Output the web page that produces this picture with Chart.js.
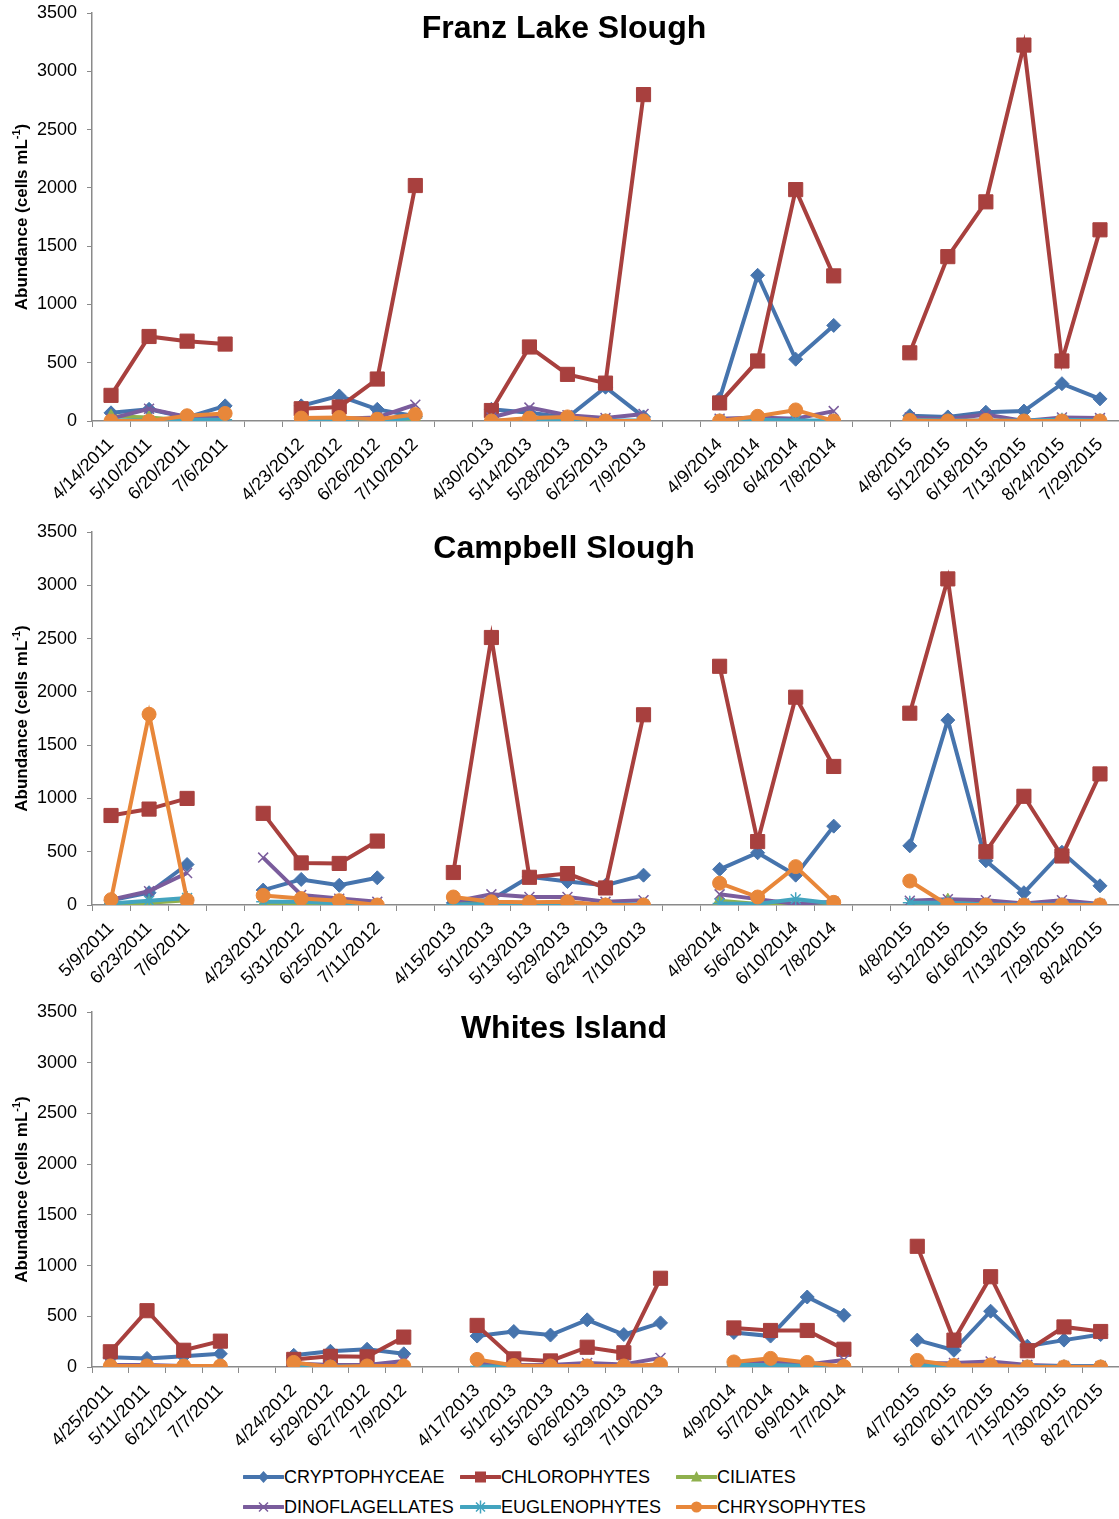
<!DOCTYPE html>
<html>
<head>
<meta charset="utf-8">
<title>Phytoplankton abundance by site</title>
<script src="https://cdn.jsdelivr.net/npm/chart.js@4/dist/chart.umd.min.js"></script>
<style>
  html, body { margin: 0; padding: 0; background: #fff; }
  body { width: 1119px; height: 1519px; position: relative; overflow: hidden;
         font-family: "Liberation Sans", Arial, sans-serif; }
  .panel { position: absolute; left: 0; }
  .panel canvas { display: block; }
  .legend-item { position: absolute; height: 20px; display: flex; align-items: center;
                 font-size: 18px; color: #000; white-space: nowrap; }
  .legend-item svg { width: 41px; height: 20px; flex: none; }
</style>
</head>
<body>
<div class="panel" style="top:0"><canvas id="franz" width="1119" height="510"></canvas></div>
<div class="panel" style="top:515px"><canvas id="campbell" width="1119" height="480"></canvas></div>
<div class="panel" style="top:995px"><canvas id="whites" width="1119" height="460"></canvas></div>
<div id="legend"></div>

<script>
// ---- Sampling dates (blank entries separate the years) ----
const franzDates = ['4/14/2011','5/10/2011','6/20/2011','7/6/2011','',
  '4/23/2012','5/30/2012','6/26/2012','7/10/2012','',
  '4/30/2013','5/14/2013','5/28/2013','6/25/2013','7/9/2013','',
  '4/9/2014','5/9/2014','6/4/2014','7/8/2014','',
  '4/8/2015','5/12/2015','6/18/2015','7/13/2015','8/24/2015','7/29/2015'];

const campbellDates = ['5/9/2011','6/23/2011','7/6/2011','',
  '4/23/2012','5/31/2012','6/25/2012','7/11/2012','',
  '4/15/2013','5/1/2013','5/13/2013','5/29/2013','6/24/2013','7/10/2013','',
  '4/8/2014','5/6/2014','6/10/2014','7/8/2014','',
  '4/8/2015','5/12/2015','6/16/2015','7/13/2015','7/29/2015','8/24/2015'];

const whitesDates = ['4/25/2011','5/11/2011','6/21/2011','7/7/2011','',
  '4/24/2012','5/29/2012','6/27/2012','7/9/2012','',
  '4/17/2013','5/1/2013','5/15/2013','6/26/2013','5/29/2013','7/10/2013','',
  '4/9/2014','5/7/2014','6/9/2014','7/7/2014','',
  '4/7/2015','5/20/2015','6/17/2015','7/15/2015','7/30/2015','8/27/2015'];

// ---- Abundance, cells per mL ----
// Franz Lake Slough
const franzCrypto   = [70,100,30,130,null, 130,215,100,40,null, 100,70,30,290,35,null, 190,1250,530,820,null, 45,35,75,85,320,190];
const franzChloro   = [220,725,685,660,null, 105,120,360,2020,null, 90,635,400,325,2800,null, 155,515,1985,1245,null, 585,1410,1880,3225,515,1640];
const franzCiliates = [40,30,5,0,null, 0,0,0,15,null, 0,0,15,0,0,null, 0,0,0,0,null, 5,0,0,0,0,0];
const franzDino     = [20,105,35,30,null, 20,20,30,140,null, 30,115,50,25,60,null, 20,30,20,85,null, 30,15,55,0,30,25];
const franzEugleno  = [5,5,10,10,null, 5,5,5,25,null, 5,5,5,5,5,null, 5,10,5,5,null, 10,5,5,5,10,5];
const franzChryso   = [0,0,45,65,null, 25,30,15,55,null, 0,25,35,0,0,null, 0,40,95,0,null, 5,0,5,0,0,0];

// Campbell Slough
const campbellCrypto   = [45,115,380,null, 140,240,185,255,null, 20,50,265,220,185,280,null, 335,490,280,740,null, 555,1735,415,115,495,180];
const campbellChloro   = [840,900,1000,null, 860,395,390,600,null, 305,2510,260,295,160,1785,null, 2240,595,1950,1300,null, 1800,3060,500,1020,460,1230];
const campbellCiliates = [10,20,45,null, 5,5,5,0,null, 5,5,5,5,0,0,null, 40,10,0,0,null, 0,45,0,0,0,0];
const campbellDino     = [50,130,300,null, 445,95,60,30,null, 30,100,75,75,30,45,null, 100,55,10,30,null, 40,55,45,15,45,10];
const campbellEugleno  = [15,40,65,null, 30,30,15,0,null, 5,5,5,5,5,5,null, 15,10,55,15,null, 20,20,5,5,5,5];
const campbellChryso   = [50,1790,45,null, 90,60,40,0,null, 75,30,25,30,0,0,null, 205,75,360,25,null, 225,0,0,0,0,0];

// Whites Island
const whitesCrypto   = [95,85,105,130,null, 115,155,175,130,null, 305,350,315,465,320,435,null, 340,305,690,510,null, 265,165,550,205,265,320];
const whitesChloro   = [150,555,165,255,null, 75,105,100,295,null, 410,80,60,195,140,875,null, 385,360,360,175,null, 1190,265,890,160,395,350];
const whitesCiliates = [0,0,0,0,null, 0,0,0,0,null, 0,0,0,0,0,0,null, 15,20,10,0,null, 0,0,0,0,0,0];
const whitesDino     = [20,20,10,10,null, 35,20,20,60,null, 40,20,20,40,25,90,null, 40,55,25,70,null, 35,40,55,20,10,10];
const whitesEugleno  = [5,5,5,5,null, 25,5,5,5,null, 5,5,5,5,5,5,null, 20,20,10,0,null, 15,5,5,5,5,5];
const whitesChryso   = [10,10,10,10,null, 45,0,10,10,null, 75,15,10,10,10,25,null, 50,85,45,5,null, 65,15,20,0,0,0];

const groupNames = ['CRYPTOPHYCEAE','CHLOROPHYTES','CILIATES','DINOFLAGELLATES','EUGLENOPHYTES','CHRYSOPHYTES'];
const yTicks = [0,500,1000,1500,2000,2500,3000,3500];

// ---- Styling ----
const FONT = '"Liberation Sans", Arial, Helvetica, sans-serif';
const AXIS_GREY = '#8a8a8a';
const groupStyles = [
  { color: '#4674ad', point: 'rectRot',  radius: 7,   pbw: 1 },
  { color: '#a8403e', point: 'rect',     radius: 10,  pbw: 1 },
  { color: '#8fb04d', point: 'triangle', radius: 7,   pbw: 1 },
  { color: '#7a5c9c', point: 'crossRot', radius: 7,   pbw: 1.5 },
  { color: '#43a4bf', point: 'star',     radius: 7,   pbw: 1.5 },
  { color: '#e8873a', point: 'circle',   radius: 7,   pbw: 1 }
];

// Panel title and the rotated y-axis title with a superscript exponent
const panelText = {
  id: 'panelText',
  afterDraw(chart, args, opts) {
    const { ctx, chartArea } = chart;
    ctx.save();
    ctx.fillStyle = '#000';
    ctx.font = 'bold 32px ' + FONT;
    ctx.textAlign = 'center';
    ctx.textBaseline = 'alphabetic';
    ctx.fillText(opts.title, 564, opts.titleY);

    const cy = (chartArea.top + chartArea.bottom) / 2;
    ctx.translate(opts.axisTitleX, cy);
    ctx.rotate(-Math.PI / 2);
    const main = 'Abundance (cells mL';
    const sup = '-1';
    const close = ')';
    ctx.font = 'bold 17px ' + FONT;
    const w1 = ctx.measureText(main).width;
    const w3 = ctx.measureText(close).width;
    ctx.font = 'bold 11px ' + FONT;
    const w2 = ctx.measureText(sup).width;
    let x = -(w1 + w2 + w3) / 2;
    ctx.textAlign = 'left';
    ctx.textBaseline = 'alphabetic';
    ctx.font = 'bold 17px ' + FONT;
    ctx.fillText(main, x, 6);
    x += w1;
    ctx.font = 'bold 11px ' + FONT;
    ctx.fillText(sup, x, -1);
    x += w2;
    ctx.font = 'bold 17px ' + FONT;
    ctx.fillText(close, x, 6);
    ctx.restore();
  }
};

function buildDatasets(seriesList) {
  return seriesList.map((values, i) => {
    const s = groupStyles[i];
    return {
      label: groupNames[i],
      data: values,
      borderColor: s.color,
      backgroundColor: s.color,
      borderWidth: 4,
      pointStyle: s.point,
      pointRadius: s.radius,
      pointBorderWidth: s.pbw,
      pointBackgroundColor: s.color,
      pointBorderColor: s.color,
      tension: 0,
      spanGaps: false,
      order: seriesList.length - i
    };
  });
}

function drawPanel(id, dates, seriesList, cfg) {
  new Chart(document.getElementById(id), {
    type: 'line',
    data: { labels: dates, datasets: buildDatasets(seriesList) },
    plugins: [panelText],
    options: {
      responsive: false,
      animation: false,
      events: [],
      layout: { autoPadding: false, padding: { top: cfg.padTop, right: 0, bottom: 0, left: 0 } },
      plugins: {
        legend: { display: false },
        tooltip: { enabled: false },
        title: { display: false },
        panelText: { title: cfg.title, titleY: cfg.titleY, axisTitleX: 21 }
      },
      scales: {
        x: {
          type: 'category',
          offset: true,
          grid: { display: true, offset: true, drawOnChartArea: false, drawTicks: true,
                  tickLength: 6, color: AXIS_GREY, lineWidth: 1 },
          border: { display: true, color: AXIS_GREY, width: 1.5 },
          ticks: { autoSkip: false, minRotation: 45, maxRotation: 45, color: '#000',
                   padding: 7, font: { family: FONT, size: 18 } },
          afterFit(scale) {
            scale.height = cfg.xHeight;
            scale.paddingLeft = 0; scale.paddingRight = 0;
          }
        },
        y: {
          min: 0, max: 3500,
          afterBuildTicks(scale) { scale.ticks = yTicks.map(v => ({ value: v })); },
          grid: { display: true, drawOnChartArea: false, drawTicks: true, tickLength: 5,
                  color: AXIS_GREY, lineWidth: 1 },
          border: { display: true, color: AXIS_GREY, width: 1.5 },
          ticks: { color: '#000', padding: 10, font: { family: FONT, size: 18 },
                   callback: v => String(v) },
          afterFit(scale) {
            scale.width = 92;
            scale.paddingTop = 0; scale.paddingBottom = 0;
          }
        }
      }
    }
  });
}

drawPanel('franz', franzDates,
  [franzCrypto, franzChloro, franzCiliates, franzDino, franzEugleno, franzChryso],
  { title: 'Franz Lake Slough', titleY: 38, padTop: 13, xHeight: 89 });

drawPanel('campbell', campbellDates,
  [campbellCrypto, campbellChloro, campbellCiliates, campbellDino, campbellEugleno, campbellChryso],
  { title: 'Campbell Slough', titleY: 43, padTop: 17, xHeight: 90 });

drawPanel('whites', whitesDates,
  [whitesCrypto, whitesChloro, whitesCiliates, whitesDino, whitesEugleno, whitesChryso],
  { title: 'Whites Island', titleY: 43, padTop: 17, xHeight: 88 });

// ---- Shared legend ----
function markerSvg(i) {
  const s = groupStyles[i];
  const c = s.color;
  let m = '';
  switch (s.point) {
    case 'rectRot':  m = `<polygon points="20.5,4 26,10 20.5,16 15,10" fill="${c}"/>`; break;
    case 'rect':     m = `<rect x="15" y="4.5" width="11" height="11" fill="${c}"/>`; break;
    case 'triangle': m = `<polygon points="20.5,4 26,14.5 15,14.5" fill="${c}"/>`; break;
    case 'crossRot': m = `<path d="M16,5.5 L25,14.5 M25,5.5 L16,14.5" stroke="${c}" stroke-width="1.5"/>`; break;
    case 'star':     m = `<path d="M16,5.5 L25,14.5 M25,5.5 L16,14.5 M20.5,3.5 L20.5,16.5" stroke="${c}" stroke-width="1.5"/>`; break;
    case 'circle':   m = `<circle cx="20.5" cy="10" r="5.5" fill="${c}"/>`; break;
  }
  return `<svg viewBox="0 0 41 20"><line x1="1" y1="10" x2="40" y2="10" stroke="${c}" stroke-width="4" stroke-linecap="round"/>${m}</svg>`;
}

const legendCols = [243, 460, 676];
const legendRows = [1467, 1497];
const legend = document.getElementById('legend');
groupNames.forEach((name, i) => {
  const item = document.createElement('div');
  item.className = 'legend-item';
  item.style.left = legendCols[i % 3] + 'px';
  item.style.top = legendRows[Math.floor(i / 3)] + 'px';
  item.innerHTML = markerSvg(i) + '<span>' + name + '</span>';
  legend.appendChild(item);
});
</script>
</body>
</html>
